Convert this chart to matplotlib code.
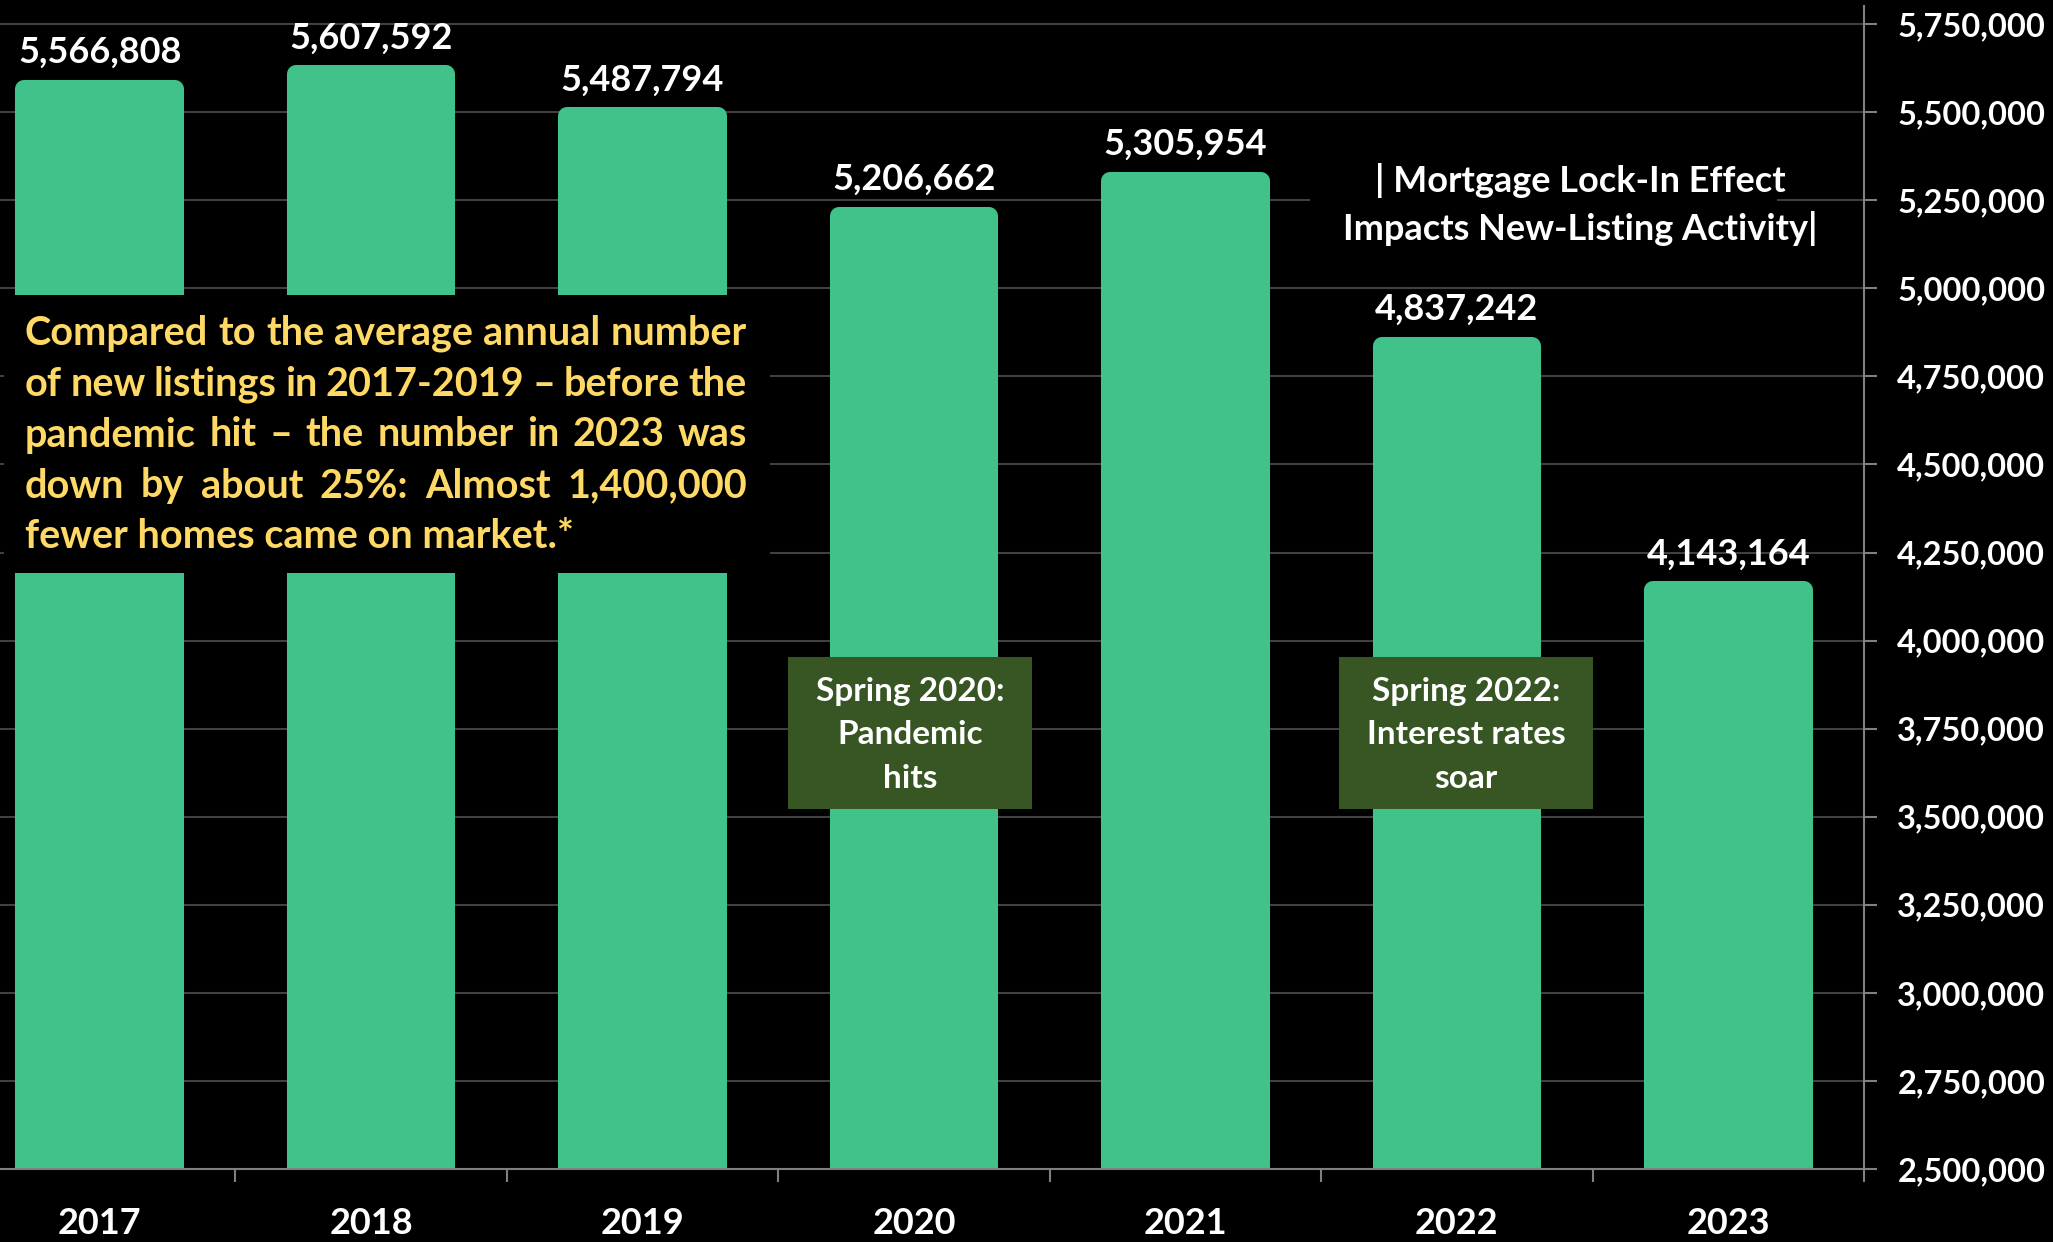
import matplotlib
matplotlib.use("Agg")
import matplotlib.pyplot as plt
from matplotlib.patches import Rectangle
from matplotlib.ticker import FuncFormatter
import numpy as np

# ---------------- data ----------------
years = ["2017", "2018", "2019", "2020", "2021", "2022", "2023"]
new_listings = [5566808, 5607592, 5487794, 5206662, 5305954, 4837242, 4143164]
y_ticks = [2500000, 2750000, 3000000, 3250000, 3500000, 3750000, 4000000,
           4250000, 4500000, 4750000, 5000000, 5250000, 5500000, 5750000]
note_lines = [
    "Compared to the average annual number",
    "of new listings in 2017-2019 \u2013 before the",
    "pandemic hit \u2013 the number in 2023 was",
    "down by about 25%: Almost 1,400,000",
    "fewer homes came on market.*",
]
title_lines = ["| Mortgage Lock-In Effect", "Impacts New-Listing Activity|"]
event1_lines = ["Spring 2020:", "Pandemic", "hits"]
event2_lines = ["Spring 2022:", "Interest rates", "soar"]

# ---------------- style ----------------
W, H = 2053, 1242
FONT = ["Lato", "DejaVu Sans"]
plt.rcParams["font.family"] = FONT
BAR = "#41C28B"
DARKGREEN = "#375623"
YELLOW = "#FFD966"
GRID = "#404040"
SPINE = "#808080"

fig = plt.figure(figsize=(W / 100, H / 100), dpi=100, facecolor="black")
ax = fig.add_axes([-36 / W, 73 / H, 1900 / W, 1162.5 / H])
ax.set_facecolor("black")

x = np.arange(len(years))
ax.bar(x, new_listings, width=0.555, color=BAR, edgecolor=BAR,
       linewidth=13, joinstyle="round", zorder=2)

for xi, v in zip(x, new_listings):
    ax.annotate(f"{v:,}", (xi, v), xytext=(0, 36), textcoords="offset pixels",
                ha="center", va="center", color="white", fontsize=26,
                fontweight="bold", zorder=5)

ax.set_xlim(-0.5, len(years) - 0.5)
ax.set_ylim(2500000, 5800000)

ax.yaxis.tick_right()
ax.set_yticks(y_ticks)
ax.yaxis.set_major_formatter(FuncFormatter(lambda v, p: f"{v:,.0f}"))
ax.yaxis.grid(True, color=GRID, linewidth=1.5)
ax.set_axisbelow(True)

ax.set_xticks(x)
ax.set_xticklabels(years)
ax.set_xticks(np.arange(0.5, len(years), 1), minor=True)

for s in ["top", "left"]:
    ax.spines[s].set_visible(False)
for s in ["right", "bottom"]:
    ax.spines[s].set_color(SPINE)
    ax.spines[s].set_linewidth(1.5)

ax.tick_params(axis="y", which="major", length=9, width=1.5, color=SPINE,
               pad=15, labelsize=23.5, labelcolor="white")
for lab in ax.get_yticklabels():
    lab.set_fontweight("bold")
ax.tick_params(axis="x", which="major", length=0, pad=27, labelsize=26,
               labelcolor="white")
for lab in ax.get_xticklabels():
    lab.set_fontweight("bold")
ax.tick_params(axis="x", which="minor", length=9.5, width=1.5, color=SPINE)


def fx(px):
    return px / W


def fy(py):
    return 1 - py / H


# black boxes masking the chart behind text
fig.add_artist(Rectangle((fx(4), fy(573)), fx(770) - fx(4), (573 - 295) / H,
                         transform=fig.transFigure, facecolor="black",
                         edgecolor="none", zorder=3))
fig.add_artist(Rectangle((fx(1310), fy(268)), fx(1777) - fx(1310), (268 - 148) / H,
                         transform=fig.transFigure, facecolor="black",
                         edgecolor="none", zorder=3))

# event boxes
fig.add_artist(Rectangle((fx(788), fy(809)), fx(1032) - fx(788), (809 - 657) / H,
                         transform=fig.transFigure, facecolor=DARKGREEN,
                         edgecolor="none", zorder=3))
fig.add_artist(Rectangle((fx(1339), fy(809)), fx(1593) - fx(1339), (809 - 657) / H,
                         transform=fig.transFigure, facecolor=DARKGREEN,
                         edgecolor="none", zorder=3))
for i, (l1, l2) in enumerate(zip(event1_lines, event2_lines)):
    yy = 692 + i * 43
    fig.text(fx(910), fy(yy), l1, ha="center", va="center", color="white",
             fontsize=24, fontweight="bold", zorder=4)
    fig.text(fx(1466), fy(yy), l2, ha="center", va="center", color="white",
             fontsize=24, fontweight="bold", zorder=4)

# title lines
for i, line in enumerate(title_lines):
    fig.text(fx(1580), fy(181 + i * 47), line, ha="center", va="center",
             color="white", fontsize=26, fontweight="bold", zorder=4)

# justified yellow note
renderer = fig.canvas.get_renderer()
x0, x1 = 25, 747
note_kw = dict(color=YELLOW, fontsize=28.5, fontweight="bold", ha="left",
               va="center", zorder=4)
for i, line in enumerate(note_lines):
    yy = 333 + i * 51
    if i == len(note_lines) - 1:
        fig.text(fx(x0), fy(yy), line, **note_kw)
        continue
    words = line.split(" ")
    texts = [fig.text(0, 0, w, **note_kw) for w in words]
    widths = [t.get_window_extent(renderer).width for t in texts]
    gap = (x1 - x0 - sum(widths)) / (len(words) - 1)
    cx = x0
    for t, wd in zip(texts, widths):
        t.set_position((fx(cx), fy(yy)))
        cx += wd + gap

fig.savefig("out.png", dpi=100, facecolor="black")
